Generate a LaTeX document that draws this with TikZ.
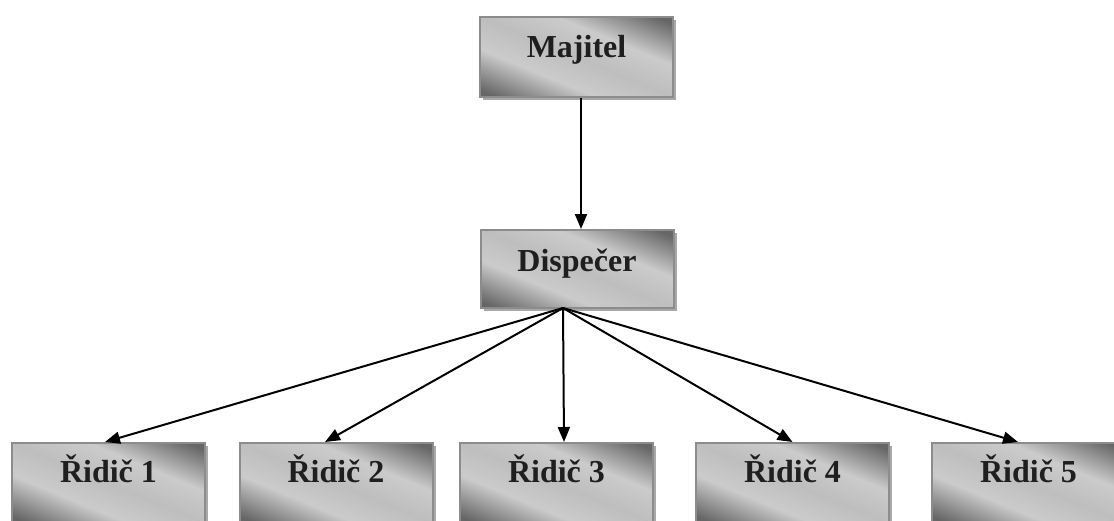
\documentclass[tikz,border=0pt]{standalone}
\usepackage{fontspec}
\setmainfont{Liberation Serif}
\usetikzlibrary{calc,shadows,arrows.meta}
\definecolor{bdark}{HTML}{666666}
\definecolor{blight}{HTML}{CBCBCB}
\definecolor{bmid}{HTML}{BEBEBE}
\definecolor{bedge}{HTML}{8C8C8C}
\definecolor{bshadow}{HTML}{A8A8A8}
\pgfdeclarehorizontalshading{boxshade}{100bp}{color(0bp)=(bdark); color(20bp)=(bdark); color(37bp)=(blight); color(50bp)=(bmid); color(63bp)=(blight); color(80bp)=(bdark); color(100bp)=(bdark)}
\tikzset{
  orgbox/.style={draw=bedge, line width=2pt, shading=boxshade, shading angle=67.5,
    minimum width=193pt, minimum height=80pt, inner sep=0pt,
    drop shadow={shadow xshift=3pt, shadow yshift=-3pt, fill=bshadow, opacity=1}},
  lbl/.style={anchor=base, font=\fontsize{32}{38}\selectfont\bfseries, text=black!88, inner sep=0pt},
  conn/.style={line width=2pt, -{Triangle[length=15pt,width=12pt]}}
}
\begin{document}
\begin{tikzpicture}[x=1pt,y=-1pt]
\useasboundingbox (0,0) rectangle (1114,520);
\node[orgbox] (maj) at (576.5,57) {};
\node[orgbox, minimum height=78pt] (disp) at (577,269) {};
\node[orgbox] (r1) at (108.5,483) {};
\node[orgbox] (r2) at (336,483) {};
\node[orgbox] (r3) at (556.5,483) {};
\node[orgbox] (r4) at (792.5,483) {};
\node[orgbox] (r5) at (1028.5,483) {};
\node[lbl] (tmaj) at ($(maj.north)+(0,41)$) {Majitel};
\node[lbl] (tdisp) at ($(disp.north)+(0,42)$) {Dispečer};
\node[lbl] (t1) at ($(r1.north)+(0,40)$) {Řidič 1};
\node[lbl] (t2) at ($(r2.north)+(0,40)$) {Řidič 2};
\node[lbl] (t3) at ($(r3.north)+(0,40)$) {Řidič 3};
\node[lbl] (t4) at ($(r4.north)+(0,40)$) {Řidič 4};
\node[lbl] (t5) at ($(r5.north)+(0,40)$) {Řidič 5};
\coordinate (hub) at ($(disp.south)+(-14,-1)$);
\draw[conn] ($(maj.south)+(4.5,0)$) -- ($(disp.north)+(4,0)$);
\draw[conn] (hub) -- ($(r1.north)+(-3.5,0)$);
\draw[conn] (hub) -- ($(r2.north)+(-11,0)$);
\draw[conn] (hub) -- ($(r3.north)+(7.5,0)$);
\draw[conn] (hub) -- ($(r4.north)+(0,0)$);
\draw[conn] (hub) -- ($(r5.north)+(-10.5,0)$);
\end{tikzpicture}
\end{document}
